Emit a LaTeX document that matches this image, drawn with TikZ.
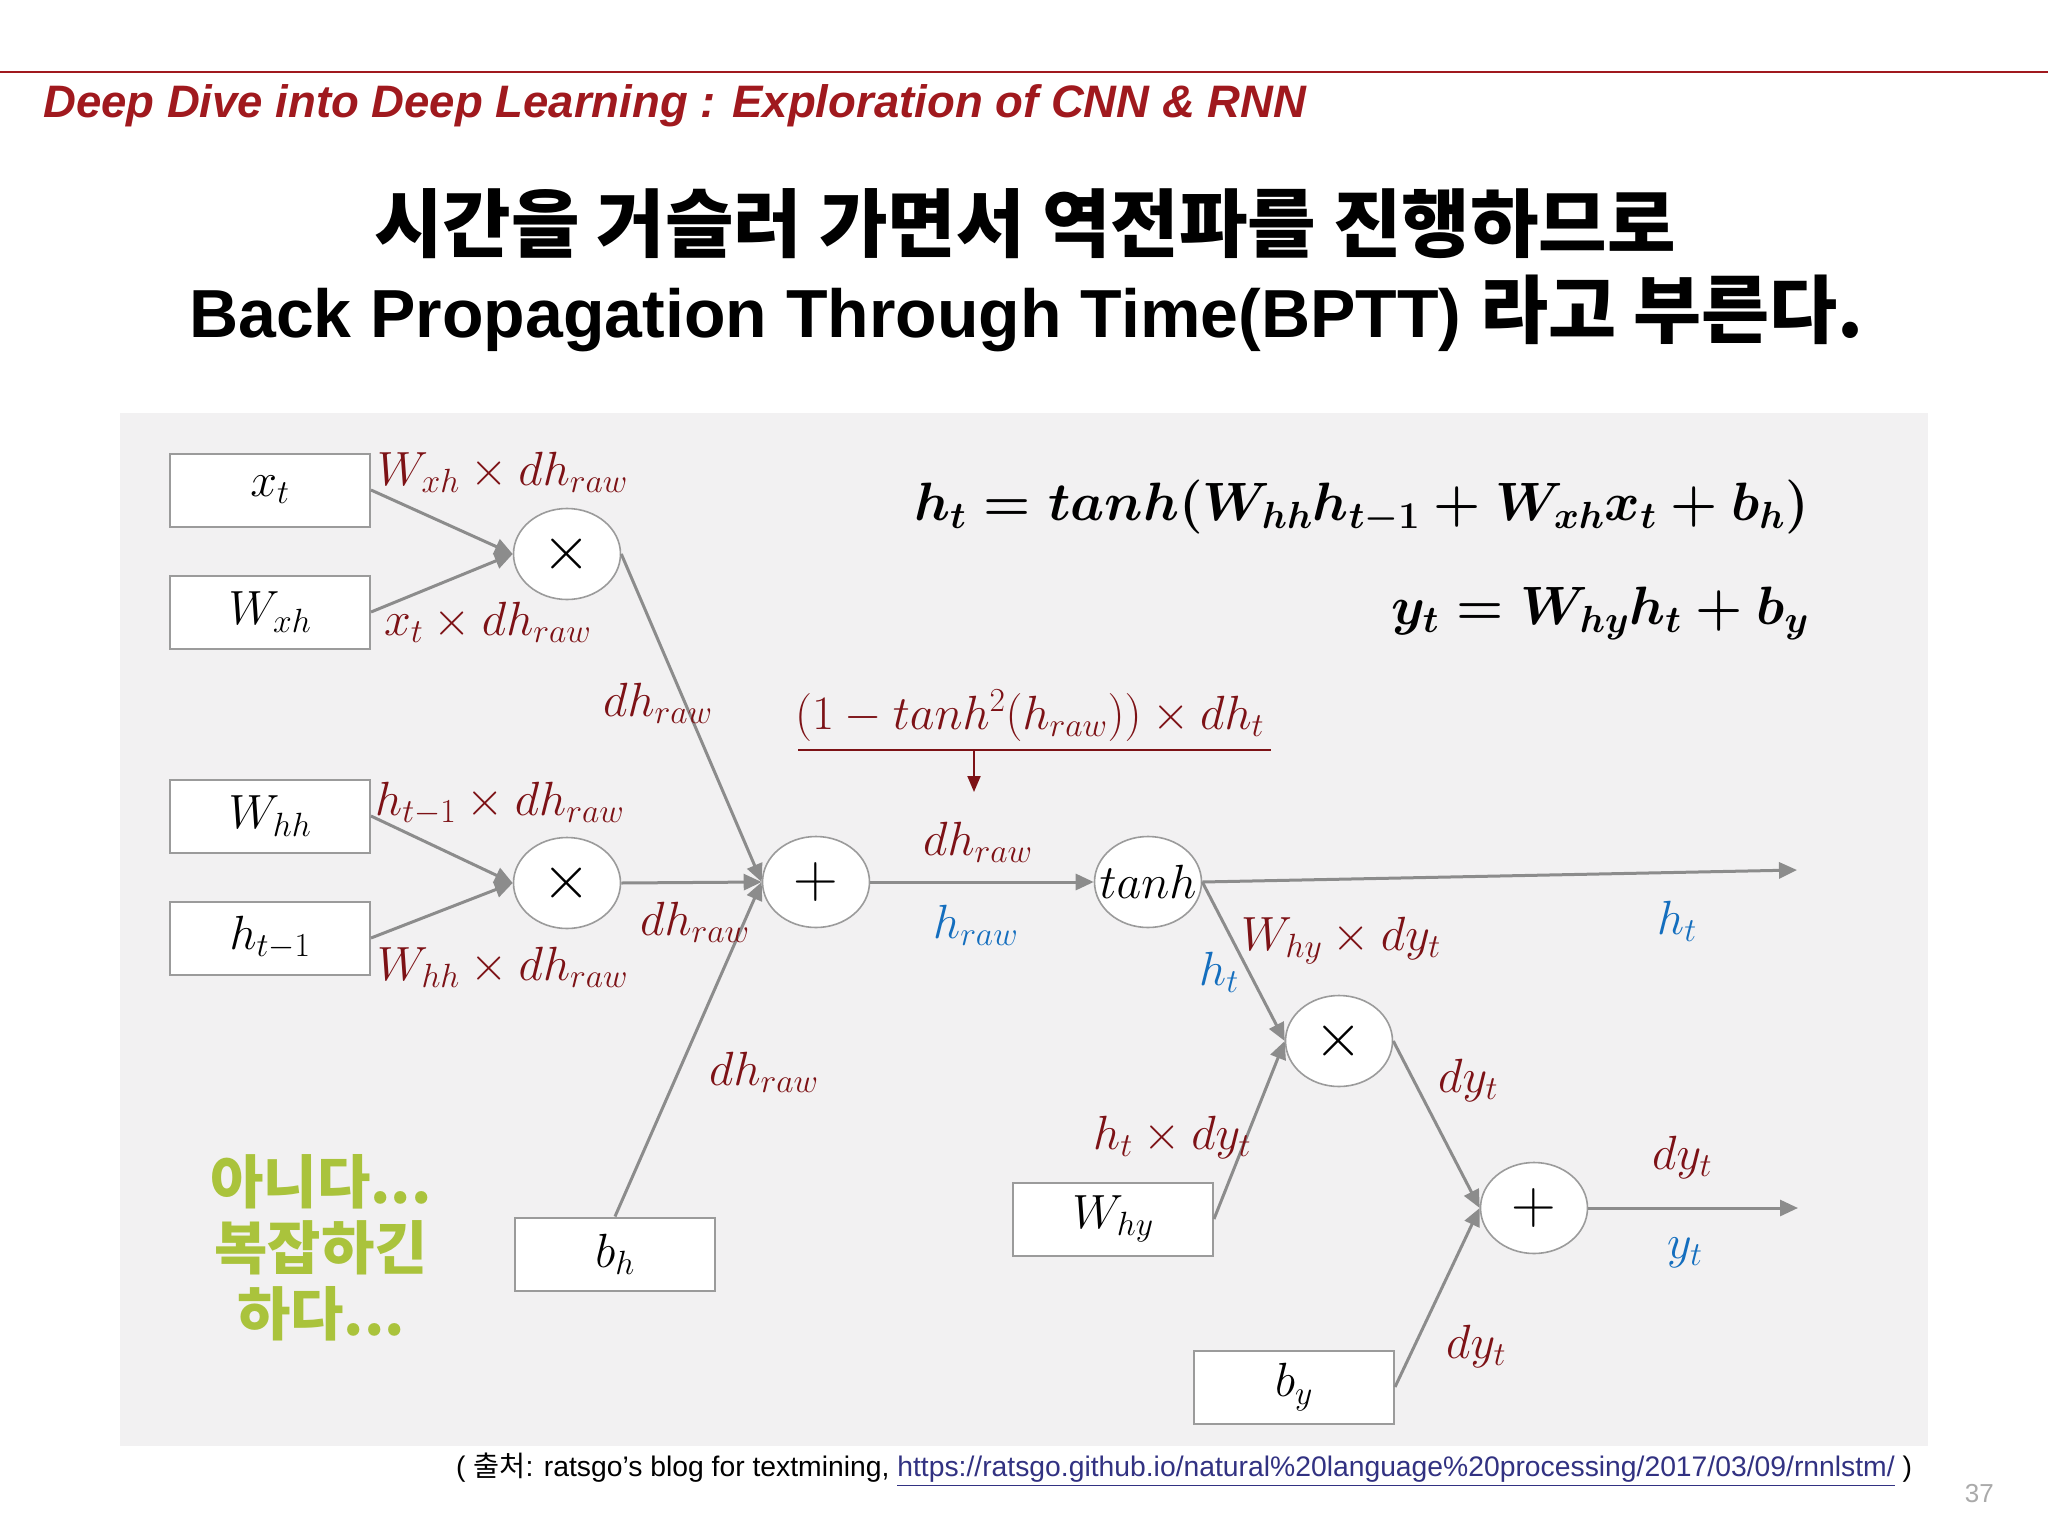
\RequirePackage{fix-cm}
\documentclass[tikz,border=0pt]{standalone}
\usepackage{amsmath}
\usepackage{fontspec}
\newfontfamily\arial{Liberation Sans}
\newfontfamily\kr{Noto Sans CJK KR}
\usetikzlibrary{arrows.meta,shapes.geometric}
\definecolor{titlered}{RGB}{160,25,30}
\definecolor{lblred}{RGB}{125,18,22}
\definecolor{lblblue}{RGB}{20,110,190}
\definecolor{panelbg}{RGB}{242,241,242}
\definecolor{conngray}{RGB}{140,140,140}
\definecolor{boxline}{RGB}{155,155,155}
\definecolor{kgreen}{RGB}{170,195,60}
\definecolor{urlblue}{RGB}{50,50,130}
\definecolor{pagegray}{RGB}{170,170,170}
\tikzset{
  box/.style={draw=boxline, line width=2pt, fill=white, minimum width=200pt, minimum height=73pt, inner sep=0pt, font=\fontsize{48}{52}\selectfont},
  op/.style={ellipse, draw=boxline, line width=1.6pt, fill=white, minimum width=107pt, minimum height=91pt, inner sep=0pt, font=\fontsize{62}{66}\selectfont},
  conn/.style={draw=conngray, line width=3pt, -{Triangle[length=18pt,width=16pt]}},
  lab/.style={text=lblred, inner sep=0pt, anchor=base west, font=\fontsize{48}{52}\selectfont},
  blab/.style={lab, text=lblblue},
  eqn/.style={inner sep=0pt, anchor=base east, font=\fontsize{54}{58}\selectfont\boldmath},
  redln/.style={draw=lblred, line width=2pt},
  redarr/.style={draw=lblred, line width=2pt, -{Triangle[length=16pt,width=13pt]}},
}
\begin{document}
\begin{tikzpicture}[x=1pt,y=-1pt]
\useasboundingbox (0,0) rectangle (2048,1536);
\fill[white] (0,0) rectangle (2048,1536);
% header
\draw[titlered, line width=1.5pt] (0,72) -- (2048,72);
\node[inner sep=0pt, anchor=base west, text=titlered, font=\arial\bfseries\itshape\fontsize{45.5}{50}\selectfont] (hdr) at (43,118) {Deep Dive into Deep Learning : Exploration of CNN \& RNN};
\node[inner sep=0pt, anchor=base, font=\kr\bfseries\fontsize{74.5}{80}\selectfont] (t1) at (1025,251) {시간을 거슬러 가면서 역전파를 진행하므로};
\node[inner sep=0pt, anchor=base west, font=\fontsize{68}{76}\selectfont] (t2) at (189,337) {{\arial\bfseries Back Propagation Through Time(BPTT) }{\kr\bfseries\fontsize{74}{80}\selectfont 라고 부른다.}};
% panel
\fill[panelbg] (120,413) rectangle (1928,1446);
% boxes
\node[box] (xt) at (270,490) {$x_t$};
\node[box] (wxh) at (270,612) {$W_{xh}$};
\node[box] (whh) at (270,816) {$W_{hh}$};
\node[box] (hprev) at (270,938) {$h_{t-1}$};
\node[box] (bh) at (615,1254) {$b_h$};
\node[box] (why) at (1113,1219) {$W_{hy}$};
\node[box] (by) at (1294,1387) {$b_y$};
% operators
\node[op] (m1) at (567,554) {$\times$};
\node[op] (m2) at (567,883) {$\times$};
\node[op] (p1) at (816,882) {$+$};
\node[op, font=\fontsize{48}{52}\selectfont] (th) at (1148,882) {\makebox[0pt]{$tanh$}};
\node[op] (m3) at (1339,1041) {$\times$};
\node[op] (p2) at (1534,1208) {$+$};
\coordinate (hout) at (1797,870);
\coordinate (yout) at (1798,1208);
% connectors
\draw[conn] (xt.east) -- (m1.west);
\draw[conn] (wxh.east) -- (m1.west);
\draw[conn] (whh.east) -- (m2.west);
\draw[conn] (hprev.east) -- (m2.west);
\draw[conn] (m1.east) -- (p1.west);
\draw[conn] (m2.east) -- (p1.west);
\draw[conn] (bh.north) -- (p1.west);
\draw[conn] (p1.east) -- (th.west);
\draw[conn] (th.east) -- (hout);
\draw[conn] (th.east) -- (m3.west);
\draw[conn] (why.east) -- (m3.west);
\draw[conn] (m3.east) -- (p2.west);
\draw[conn] (by.east) -- (p2.west);
\draw[conn] (p2.east) -- (yout);
% red derivative arrow
\coordinate (ulL) at (798,750);
\coordinate (ulR) at (1271,750);
\coordinate (ra1) at (974,750);
\coordinate (ra2) at (974,792);
\draw[redln] (ulL) -- (ulR);
\draw[redarr] (ra1) -- (ra2);
% labels
\node[lab] (l1) at (377,485) {$W_{xh}\times dh_{raw}$};
\node[lab] (l2) at (384,635) {$x_t\times dh_{raw}$};
\node[lab] (l3) at (603,716) {$dh_{raw}$};
\node[lab] (l4) at (795,729) {$(1-tanh^2(h_{raw}))\times dh_t$};
\node[lab] (l5) at (375,815) {$h_{t-1}\times dh_{raw}$};
\node[lab] (l6) at (923,855) {$dh_{raw}$};
\node[blab] (l7) at (933,938) {$h_{raw}$};
\node[lab] (l8) at (640,935) {$dh_{raw}$};
\node[lab] (l9) at (377,980) {$W_{hh}\times dh_{raw}$};
\node[lab] (l10) at (709,1085) {$dh_{raw}$};
\node[lab] (l12) at (1241,950) {$W_{hy}\times dy_t$};
\node[blab] (l13) at (1199,985) {$h_t$};
\node[blab] (l14) at (1657,934) {$h_t$};
\node[lab] (l15) at (1438,1092) {$dy_t$};
\node[lab] (l16) at (1093,1149) {$h_t\times dy_t$};
\node[lab] (l17) at (1652,1169) {$dy_t$};
\node[blab] (l18) at (1667,1258) {$y_t$};
\node[lab] (l19) at (1446,1358) {$dy_t$};
% equations
\node[eqn] (eq1) at (1809,520) {$h_t = tanh(W_{hh}h_{t-1} + W_{xh}x_t + b_h)$};
\node[eqn] (eq2) at (1809,624) {$y_t = W_{hy}h_t + b_y$};
% green comment
\node[inner sep=0pt, align=center, text=kgreen, font=\kr\bfseries\fontsize{58}{66}\selectfont] (cmt) at (321,1248) {아니다...\\복잡하긴\\하다...};
% source
\node[inner sep=0pt, anchor=base west, font=\arial\fontsize{28.3}{32}\selectfont] (src) at (456,1476) {( {\kr 출처}: ratsgo’s blog for textmining, {\color{urlblue}\underline{https://ratsgo.github.io/natural\%20language\%20processing/2017/03/09/rnnlstm/}} )};
\node[inner sep=0pt, anchor=base east, text=pagegray, font=\arial\fontsize{26}{30}\selectfont] (pg) at (1994,1502) {37};
\end{tikzpicture}
\end{document}
